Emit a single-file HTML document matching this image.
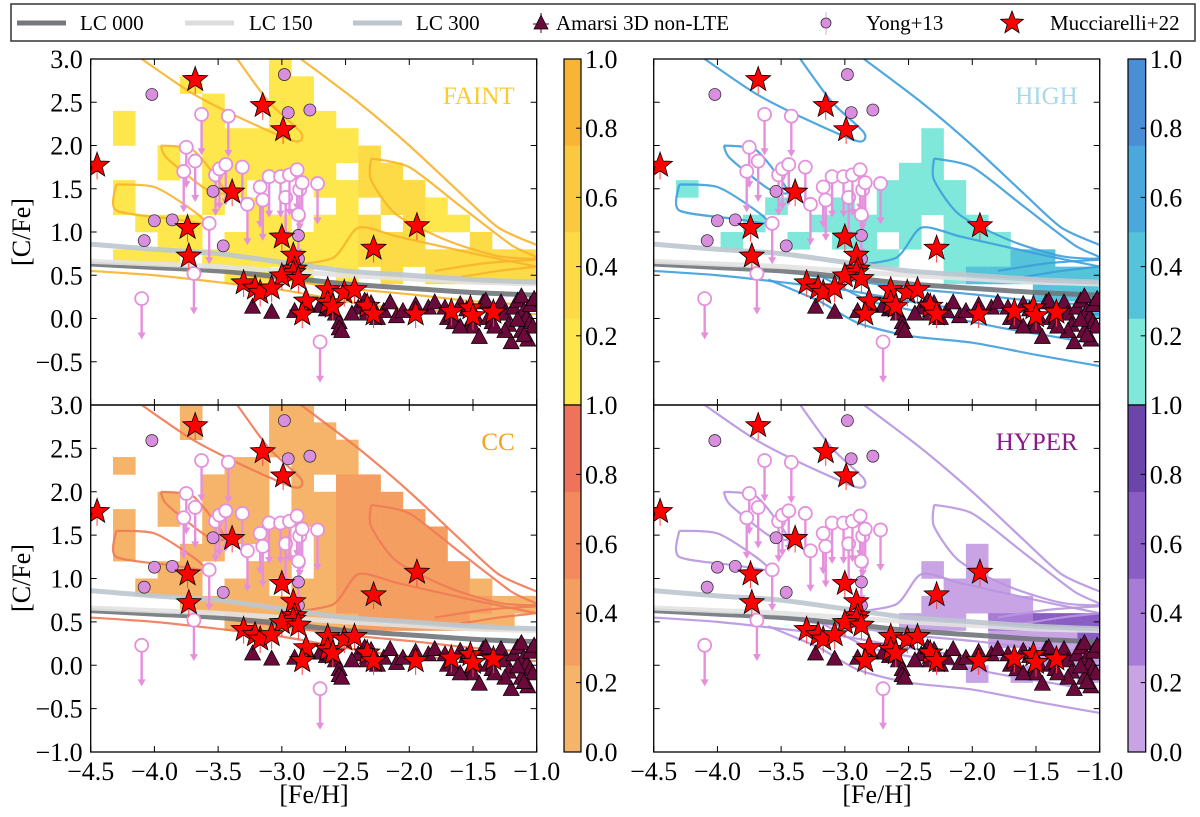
<!DOCTYPE html>
<html><head><meta charset="utf-8">
<style>
html,body{margin:0;padding:0;background:#fff;}
svg{display:block;font-family:"Liberation Serif",serif;}
</style></head>
<body>
<svg id="fig" width="1200" height="817" viewBox="0 0 1200 817" xmlns="http://www.w3.org/2000/svg">
<g>
  <rect x="11" y="4" width="1184" height="37" fill="#fff" stroke="#333" stroke-width="1.5"/>
  <g><line x1="17" y1="23" x2="66" y2="23" stroke="#75797d" stroke-width="5"/><text x="80" y="30" font-size="21">LC 000</text></g>
  <g><line x1="185" y1="23" x2="234" y2="23" stroke="#dcdcdc" stroke-width="5"/><text x="249" y="30" font-size="21">LC 150</text></g>
  <g><line x1="353" y1="23" x2="402" y2="23" stroke="#bcc6cf" stroke-width="5"/><text x="416" y="30" font-size="21">LC 300</text></g>
  <g><line x1="541" y1="13" x2="541" y2="33" stroke="#8a2050" stroke-width="1.2"/><line x1="533" y1="24" x2="549" y2="24" stroke="#8a2050" stroke-width="1.2"/><polygon points="541,15 548,29 534,29" fill="#6a0a3a" stroke="#000" stroke-width="0.7"/><text x="556" y="30" font-size="21">Amarsi 3D non-LTE</text></g>
  <g><line x1="826" y1="12" x2="826" y2="35" stroke="#f0a0e0" stroke-width="1"/><circle cx="826" cy="23" r="5" fill="#da8ee0" stroke="#333" stroke-width="0.8"/><text x="866" y="30" font-size="21">Yong+13</text></g>
  <g><path id="legstar" fill="#ff0000" stroke="#000" stroke-width="0.8"/><text x="1050" y="30" font-size="21">Mucciarelli+22</text></g>
</g>
<g id="panels"></g>
<text x="30" y="232" font-size="26" text-anchor="middle" transform="rotate(-90 30 232)">[C/Fe]</text>
<text x="30" y="578" font-size="26" text-anchor="middle" transform="rotate(-90 30 578)">[C/Fe]</text>
<text x="314" y="803" font-size="26" text-anchor="middle">[Fe/H]</text>
<text x="877" y="803" font-size="26" text-anchor="middle">[Fe/H]</text>
</svg>
<script>
// ---------- observational data ----------
const starFe = [-4.45,-3.68,-3.15,-2.99,-3.39,-3.74,-3.73,-3.0,-2.91,-2.9,-2.91,-3.0,-2.87,-3.3,-3.21,-3.17,-3.08,-2.81,-2.84,-2.64,-2.64,-2.6,-2.51,-2.43,-2.28,-1.94,-2.33,-2.28,-1.95,-1.67,-1.52,-1.5,-1.34];
const starC  = [1.77,2.76,2.46,2.18,1.46,1.05,0.72,0.94,0.73,0.57,0.53,0.49,0.46,0.41,0.35,0.30,0.35,0.20,0.05,0.33,0.18,0.14,0.30,0.33,0.81,1.07,0.14,0.05,0.05,0.08,0.12,0.03,0.07];
const yongFe = [-4.02,-2.98,-2.95,-2.78,-4.0,-3.86,-3.54,-4.08,-3.46,-2.87,-2.87];
const yongC  = [2.59,2.82,2.38,2.41,1.13,1.14,1.47,0.90,0.84,0.96,0.69];
const limFe = [-3.63,-3.42,-3.75,-3.77,-3.68,-3.52,-3.49,-3.44,-3.31,-3.27,-3.57,-3.17,-3.15,-3.1,-3.01,-2.97,-2.94,-2.88,-2.86,-2.84,-2.87,-2.72,-3.69,-4.1,-2.70];
const limC  = [2.36,2.34,1.98,1.70,1.82,1.66,1.73,1.78,1.75,1.32,1.10,1.52,1.37,1.64,1.64,1.40,1.66,1.72,1.49,1.57,1.20,1.56,0.52,0.23,-0.27];
const amFe = [-3.23,-3.08,-2.7,-2.65,-2.58,-2.55,-2.55,-2.53,-2.4,-2.35,-2.33,-2.3,-2.25,-2.2,-2.15,-2.1,-2.05,-1.95,-1.85,-1.8,-1.7,-1.65,-1.6,-1.55,-1.52,-1.5,-1.48,-1.45,-1.42,-1.4,-1.38,-1.35,-1.3,-1.28,-1.25,-1.22,-1.2,-1.18,-1.15,-1.12,-1.1,-1.08,-1.05,-1.05,-1.03,-1.02,-1.12,-1.15,-1.25,-1.33,-2.62,-2.45,-2.8,-2.9,-1.07,-1.1,-1.6,-1.72];
const amC  = [0.13,0.07,0.14,0.10,0.05,-0.05,-0.12,-0.15,0.12,0.20,0.05,0.17,0.0,0.08,0.18,0.02,0.08,0.15,0.12,0.18,0.0,-0.05,0.16,0.10,-0.05,-0.10,0.02,-0.22,0.18,0.20,0.0,-0.05,0.10,0.18,0.05,-0.08,-0.28,0.12,0.20,0.25,0.08,0.0,-0.05,0.15,-0.10,0.22,-0.15,-0.02,-0.15,-0.10,0.12,0.05,0.15,0.08,-0.25,-0.20,-0.10,0.12];
const lcFe  = [-4.5,-4.0,-3.5,-3.0,-2.5,-2.0,-1.5,-1.0];
const lc000 = [0.63,0.59,0.55,0.48,0.40,0.35,0.30,0.27];
const lc150 = [0.66,0.63,0.60,0.55,0.50,0.46,0.42,0.40];
const lc300 = [0.86,0.80,0.75,0.65,0.55,0.50,0.45,0.42];
// ---------- model heatmaps: [columnIndex, yLow, yHigh, value] ----------
const faintCells = [[1,2.0,2.4,0.1],[1,1.2,1.6,0.1],[1,0.6,0.8,0.1],[2,1.0,1.2,0.1],[2,0.6,0.8,0.1],[3,0.6,1.2,0.1],[3,1.6,2.0,0.1],[4,0.8,1.2,0.1],[4,2.6,2.8,0.1],[5,0.6,0.8,0.1],[5,1.2,2.6,0.1],[6,0.4,1.0,0.1],[6,1.4,2.2,0.1],[7,0.4,1.4,0.1],[7,1.6,2.2,0.1],[8,0.6,1.2,0.1],[8,1.6,3.0,0.1],[9,0.4,1.0,0.1],[9,1.6,2.8,0.1],[10,0.6,1.2,0.1],[10,1.4,2.4,0.1],[11,0.4,1.6,0.1],[11,1.8,2.2,0.1],[12,0.6,1.2,0.35],[12,1.4,2.0,0.35],[13,0.4,1.0,0.35],[13,1.2,1.8,0.35],[14,0.6,1.6,0.35],[15,0.4,0.8,0.4],[15,1.0,1.4,0.1],[16,0.4,0.8,0.4],[16,1.0,1.2,0.1],[17,0.4,1.0,0.35],[18,0.4,0.8,0.35],[19,0.4,0.8,0.35]];
const ccCells = [[1,2.2,2.4,0.1],[1,1.2,1.8,0.1],[2,0.8,1.0,0.1],[3,0.8,1.2,0.1],[3,1.6,2.0,0.1],[4,0.6,1.4,0.1],[4,2.6,3.0,0.1],[5,0.6,0.8,0.1],[5,1.2,2.2,0.1],[6,0.4,1.0,0.1],[6,1.4,2.4,0.1],[7,0.4,1.2,0.1],[7,1.4,2.4,0.1],[8,0.4,0.8,0.1],[8,1.0,1.6,0.1],[8,2.4,3.0,0.1],[9,0.4,1.0,0.1],[9,1.6,3.0,0.1],[10,0.4,2.0,0.1],[10,2.2,2.8,0.1],[11,0.4,2.6,0.1],[11,0.6,2.2,0.3],[12,0.4,2.2,0.3],[13,0.4,2.0,0.3],[14,0.4,1.8,0.3],[15,0.4,1.6,0.3],[16,0.4,1.2,0.3],[17,0.4,1.0,0.1],[17,0.6,0.8,0.35],[18,0.4,0.8,0.1],[19,0.6,0.8,0.1]];
const highCells = [[1,1.4,1.6,0.1],[3,0.8,1.0,0.1],[4,1.0,1.2,0.1],[5,1.2,1.4,0.1],[6,0.8,1.0,0.1],[7,1.0,1.2,0.1],[8,0.8,1.4,0.1],[9,0.6,1.2,0.1],[10,0.6,0.8,0.1],[10,1.0,1.6,0.1],[11,0.8,1.8,0.1],[12,1.2,2.2,0.1],[13,0.4,1.6,0.1],[14,0.4,1.2,0.1],[14,0.4,0.6,0.45],[15,0.4,1.0,0.1],[15,0.4,0.6,0.45],[16,0.4,0.8,0.45],[17,0.2,0.8,0.45],[18,0.2,0.6,0.45],[19,0.0,0.6,0.45]];
const hyperCells = [[11,0.4,0.6,0.1],[12,0.4,0.8,0.1],[12,1.0,1.2,0.1],[13,0.4,1.0,0.1],[14,0.6,1.4,0.1],[14,-0.2,0.0,0.1],[15,0.2,1.0,0.1],[15,0.4,0.6,0.45],[16,0.2,0.8,0.1],[16,-0.2,0.0,0.1],[16,0.4,0.6,0.45],[17,0.0,0.6,0.1],[17,0.4,0.6,0.5],[18,0.0,0.6,0.1],[18,0.4,0.6,0.5],[19,-0.2,0.4,0.1],[19,0.2,0.6,0.5]];
// ---------- contour polylines (data coords) ----------
const contBase = [
 [[-4.1,3.0],[-3.7,2.6],[-3.3,2.3],[-2.9,2.05],[-2.85,2.15],[-3.1,2.5],[-3.35,3.0]],
 [[-2.85,3.0],[-2.4,2.5],[-2.0,2.0],[-1.6,1.45],[-1.3,1.05],[-1.0,0.85]],
 [[-4.5,0.55],[-4.0,0.5],[-3.5,0.42],[-3.0,0.33],[-2.5,0.2],[-2.0,0.1],[-1.0,0.05]],
 [[-4.3,1.55],[-4.0,1.52],[-3.7,1.25],[-3.6,1.1],[-3.85,1.15],[-4.3,1.25],[-4.3,1.55]],
 [[-3.95,2.0],[-3.7,1.95],[-3.5,1.6],[-3.45,1.45],[-3.6,1.5],[-3.9,1.85],[-3.95,2.0]],
 [[-2.3,1.85],[-2.0,1.75],[-1.6,1.3],[-1.2,0.85],[-1.0,0.7],[-1.3,0.72],[-1.7,0.9],[-2.1,1.2],[-2.3,1.6],[-2.3,1.85]],
 [[-3.0,0.6],[-2.6,0.7],[-2.4,1.05],[-2.1,0.95],[-1.8,0.85],[-1.4,0.72],[-1.0,0.6]],
 [[-1.8,0.55],[-1.4,0.64],[-1.0,0.68]],
 [[-1.6,0.48],[-1.3,0.55],[-1.0,0.6]],
 [[-3.3,0.5],[-3.0,0.45],[-2.5,0.35],[-2.0,0.28],[-1.5,0.2],[-1.0,0.15]]
];
const contLow = [
 [[-3.6,0.45],[-3.2,0.2],[-2.9,-0.05],[-2.5,-0.2],[-2.0,-0.28],[-1.5,-0.42],[-1.0,-0.55]],
 [[-3.2,0.5],[-2.8,0.2],[-2.3,0.05],[-1.8,-0.1],[-1.4,-0.2],[-1.0,-0.3]]
];
const panels = [
 {name:'faint',label:'FAINT',lc:'#f9cd30',x0:90.7,x1:536.7,y0:59,y1:405,cells:faintCells,cont:contBase,cc:'#f8b22e',cmap:['#fde74c','#fddb46','#fbc940','#f8b535'],cb:[564,581],xlab:false,ylab:true,top:true},
 {name:'high',label:'HIGH',lc:'#a8d8e6',x0:653.7,x1:1099.7,y0:59,y1:405,cells:highCells,cont:contBase.concat(contLow),cc:'#3e9fdc',cmap:['#7fe8da','#55c4da','#4aa8dc','#4a8fd6'],cb:[1128,1145.7],xlab:false,ylab:false,top:true},
 {name:'cc',label:'CC',lc:'#f7a21c',x0:90.7,x1:536.7,y0:405,y1:752,cells:ccCells,cont:contBase,cc:'#f07a55',cmap:['#f6b46a','#f59e62','#f28a5e','#ee735a'],cb:[564,581],xlab:true,ylab:true,top:false},
 {name:'hyper',label:'HYPER',lc:'#8a1a8a',x0:653.7,x1:1099.7,y0:405,y1:752,cells:hyperCells,cont:contBase.concat(contLow),cc:'#b895e0',cmap:['#c8a4e4','#a77bd6','#8a5dc4','#6b45aa'],cb:[1128,1145.7],xlab:true,ylab:false,top:false}
];
const NS='http://www.w3.org/2000/svg';
function el(tag,attrs,parent){const e=document.createElementNS(NS,tag);for(const k in attrs)e.setAttribute(k,attrs[k]);if(parent)parent.appendChild(e);return e;}
function starPath(cx,cy,R){const r=R*0.42;let d='';for(let i=0;i<10;i++){const a=-Math.PI/2+i*Math.PI/5;const rr=i%2?r:R;d+=(i?'L':'M')+(cx+rr*Math.cos(a)).toFixed(1)+','+(cy+rr*Math.sin(a)).toFixed(1);}return d+'Z';}
document.getElementById('legstar').setAttribute('d',starPath(1012,23,12));
function smooth(pts){let d='M'+pts[0][0]+','+pts[0][1];for(let i=0;i<pts.length-1;i++){const p0=pts[i-1]||pts[i],p1=pts[i],p2=pts[i+1],p3=pts[i+2]||p2;d+='C'+(p1[0]+(p2[0]-p0[0])/8)+','+(p1[1]+(p2[1]-p0[1])/8)+' '+(p2[0]-(p3[0]-p1[0])/8)+','+(p2[1]-(p3[1]-p1[1])/8)+' '+p2[0]+','+p2[1];}return d;}
const root=document.getElementById('panels');
panels.forEach((P,pi)=>{
 const g=el('g',{},root);
 
 
 const sx=v=>P.x0+(v+4.5)/3.5*(P.x1-P.x0);
 const sy=v=>P.y1-(v+1)/4*(P.y1-P.y0);
 const cid='clip'+pi;
 const cp=el('clipPath',{id:cid},g);el('rect',{x:P.x0,y:P.y0,width:P.x1-P.x0,height:P.y1-P.y0},cp);
 const inner=el('g',{'clip-path':'url(#'+cid+')'},g);
 const colr=v=>P.cmap[Math.min(3,Math.floor(v/0.25))];
 P.cells.forEach(c=>{
  const xa=-4.5+c[0]*0.175;
  const r=el('rect',{x:sx(xa),y:sy(c[2]),width:sx(xa+0.175)-sx(xa)+0.3,height:sy(c[1])-sy(c[2])+0.3,fill:colr(c[3])},inner);
  
  
 });
 P.cont.forEach(line=>{
  const p=el('path',{d:smooth(line.map(q=>[sx(q[0]),sy(q[1])])),fill:'none',stroke:P.cc,'stroke-width':2.2,opacity:0.9},inner);
  
  
 });
 [[lc000,'#70757a','lc000'],[lc150,'#e2e2e2','lc150'],[lc300,'#bcc6cf','lc300']].forEach(L=>{
  const pts=lcFe.map((f,i)=>[sx(f),sy(L[0][i])]);
  const p=el('path',{d:smooth(pts),fill:'none',stroke:L[1],'stroke-width':5,opacity:0.9},inner);
  
  
 });
 amFe.forEach((f,i)=>{
  const x=sx(f),y=sy(amC[i]);
  const t=el('polygon',{points:`${x},${y-9} ${x+8},${y+6} ${x-8},${y+6}`,fill:'#6a0a3a',stroke:'#000','stroke-width':0.7},inner);
  
  
 });
 limFe.forEach((f,i)=>{
  const x=sx(f),y=sy(limC[i]),y2=sy(limC[i]-0.45);
  const gg=el('g',{},inner);
  
  
  el('line',{x1:x,y1:y,x2:x,y2:y2-4,stroke:'#e590dc','stroke-width':2.4},gg);
  el('polygon',{points:`${x-4},${y2-5} ${x+4},${y2-5} ${x},${y2+2}`,fill:'#e590dc'},gg);
  el('circle',{cx:x,cy:y,r:6.5,fill:'#fff',stroke:'#e590dc','stroke-width':1.8},gg);
 });
 yongFe.forEach((f,i)=>{
  const c=el('circle',{cx:sx(f),cy:sy(yongC[i]),r:6,fill:'#da8ee0',stroke:'#333','stroke-width':0.8},inner);
  
  
 });
 starFe.forEach((f,i)=>{
  const x=sx(f),y=sy(starC[i]);
  const gg=el('g',{},inner);
  
  
  el('line',{x1:x,y1:y-14,x2:x,y2:y+14,stroke:'#ff4040','stroke-width':1},gg);
  el('path',{d:starPath(x,y,13),fill:'#ff0000',stroke:'#000','stroke-width':0.8},gg);
 });
 el('rect',{x:P.x0,y:P.y0,width:P.x1-P.x0,height:P.y1-P.y0,fill:'none',stroke:'#000','stroke-width':1.3},g);
 for(let k=0;k<=7;k++){const v=-4.5+k*0.5,x=sx(v);
  el('line',{x1:x,y1:P.y1,x2:x,y2:P.y1-6,stroke:'#000'},g);el('line',{x1:x,y1:P.y0,x2:x,y2:P.y0+6,stroke:'#000'},g);
  if(P.xlab){const t=el('text',{x:x,y:P.y1+28,'font-size':26,'text-anchor':'middle'},g);t.textContent=(v<0?'\u2212':'')+Math.abs(v).toFixed(1);
   
   }
 }
 for(let k=0;k<=8;k++){const v=-1+k*0.5,y=sy(v);
  el('line',{x1:P.x0,y1:y,x2:P.x0+6,y2:y,stroke:'#000'},g);el('line',{x1:P.x1,y1:y,x2:P.x1-6,y2:y,stroke:'#000'},g);
  if(P.ylab&&!(P.top&&k===0)){const t=el('text',{x:P.x0-8,y:y+9,'font-size':26,'text-anchor':'end'},g);t.textContent=(v<0?'\u2212':'')+Math.abs(v).toFixed(1);
   
   }
 }
 const lab=el('text',{x:P.x1-22,y:P.y0+45,'font-size':25,'text-anchor':'end',fill:P.lc},g);lab.textContent=P.label;
 
 
 const cb=el('g',{},g);
 
 
 const cx0=P.cb[0],cw=P.cb[1]-P.cb[0];
 for(let s=0;s<4;s++){el('rect',{x:cx0,y:P.y1-(s+1)/4*(P.y1-P.y0),width:cw,height:(P.y1-P.y0)/4+0.3,fill:P.cmap[s]},cb);}
 el('rect',{x:cx0,y:P.y0,width:cw,height:P.y1-P.y0,fill:'none',stroke:'#000','stroke-width':1.2},cb);
 for(let s=0;s<=5;s++){const v=s*0.2,y=P.y1-v*(P.y1-P.y0);
  el('line',{x1:cx0+cw,y1:y,x2:cx0+cw-5,y2:y,stroke:'#000'},cb);
  if(P.top&&s===0) continue;
  const t=el('text',{x:cx0+cw+4,y:y+9,'font-size':26},cb);t.textContent=v.toFixed(1);
  
  
 }
});
</script>
</body></html>
